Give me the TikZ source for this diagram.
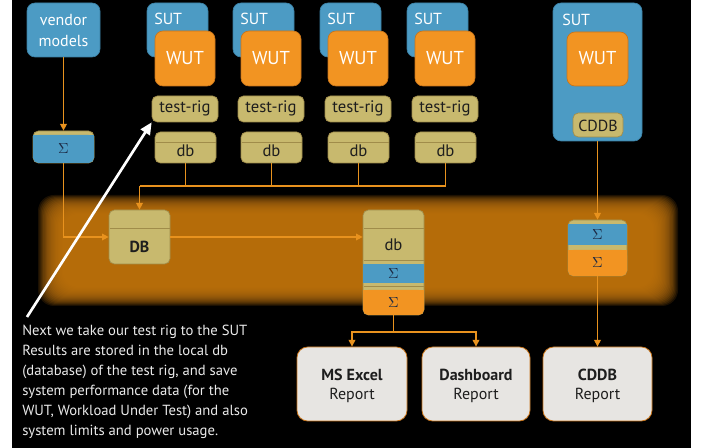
\documentclass[tikz,border=0pt]{standalone}
\usepackage{fontspec}
\setmainfont{PT Sans}
\usetikzlibrary{fit,arrows.meta}
\definecolor{bblue}{HTML}{4C9BC4}
\definecolor{bblueD}{HTML}{3A7FA3}
\definecolor{borange}{HTML}{F29422}
\definecolor{borangeD}{HTML}{C8741A}
\definecolor{btan}{HTML}{C8B96E}
\definecolor{btanD}{HTML}{A08C4A}
\definecolor{lineor}{HTML}{E8921E}
\definecolor{band}{HTML}{C27510}
\definecolor{repgray}{HTML}{E7E5E2}
\definecolor{sigcol}{HTML}{1C2A44}
\definecolor{txtdark}{HTML}{1E1E1E}
\definecolor{notegray}{HTML}{EAEAEA}
\tikzset{
  bluebox/.style={fill=bblue, draw=bblueD, line width=0.5pt, rounded corners=6pt, inner sep=0pt},
  orbox/.style={fill=borange, draw=borangeD, line width=0.5pt, rounded corners=6pt, inner sep=0pt},
  tanbox/.style={fill=btan, draw=btanD, line width=0.5pt, rounded corners=4pt, inner sep=0pt},
  repbox/.style={fill=repgray, draw=borangeD, line width=0.6pt, rounded corners=8pt, inner sep=0pt},
  wtxt/.style={text=white, font=\fontsize{12}{16}\selectfont, inner sep=0pt},
  wuttxt/.style={text=white, font=\fontsize{14}{16}\selectfont, inner sep=0pt},
  dtxt/.style={text=txtdark, font=\fontsize{12.5}{14}\selectfont, inner sep=0pt},
  reptxt/.style={text=txtdark, font=\fontsize{12}{14}\selectfont, inner sep=0pt},
  sigtxt/.style={text=sigcol, font=\fontsize{11}{12}\selectfont, inner sep=0pt},
  sepline/.style={draw=btanD, line width=0.6pt},
  wire/.style={draw=lineor, line width=0.9pt},
  flow/.style={draw=lineor, line width=0.9pt, -{Triangle[length=5pt,width=5pt]}},
}
\begin{document}
\begin{tikzpicture}[x=0.75pt,y=-0.75pt]
\useasboundingbox (0,0) rectangle (704,448);
\fill[white] (0,0) rectangle (704,448);
\fill[black] (12,0) rectangle (691,448);
% glow band
\foreach \k in {0,...,19} {
  \fill[band, opacity=0.14, rounded corners=12pt] ({38+1.3*\k},{195+1*\k}) rectangle ({678-1.3*\k},{306-1*\k});
}
% vendor models
\node[bluebox, fit={(27,3) (100,57)}] (vendor) {};
\node[wtxt] (vendor1) at (63.5,20) {vendor};
\node[wtxt] (vendor2) at (63.5,41) {models};
% left sigma
\node[tanbox, fit={(33,131) (94,163)}] (sigL) {};
\fill[bblue, rounded corners=4pt] (33,135) rectangle (94,163);
\fill[bblue] (33,135) rectangle (94,145);
\node[sigtxt] (sigLt) at (63.5,149) {$\Sigma$};
% columns
\foreach \i/\dx in {1/0,2/86,3/173,4/260} {
  \node[bluebox, fit={({147+\dx},3) ({208+\dx},57)}] (sut\i) {};
  \node[wtxt, anchor=west] (sut\i t) at ({154+\dx},19) {SUT};
  \node[orbox, fit={({155+\dx},31) ({215+\dx},86)}] (wut\i) {};
  \node[wuttxt] (wut\i t) at ({185+\dx},58) {WUT};
  \node[tanbox, fit={({152+\dx},96) ({218+\dx},122)}] (tr\i) {};
  \node[dtxt] (tr\i t) at ({185+\dx},108.5) {test-rig};
  \node[tanbox, fit={({155+\dx},132) ({216+\dx},163)}] (db\i) {};
  \draw[sepline] ({155.5+\dx},142) -- ({215.5+\dx},142);
  \node[dtxt] (db\i t) at ({185.5+\dx},150.5) {db};
}
% right SUT
\node[bluebox, fit={(553,3) (642,141)}] (sutR) {};
\node[wtxt, anchor=west] (sutRt) at (562,20) {SUT};
\node[orbox, fit={(567,32) (628,86)}] (wutR) {};
\node[wuttxt] (wutRt) at (597.5,58) {WUT};
\node[tanbox, fit={(573,113) (623,137)}] (cddb) {};
\node[dtxt, font=\fontsize{12}{14}\selectfont] (cddbt) at (598,125.5) {CDDB};
% DB
\node[tanbox, fit={(109,210) (170,264)}] (DB) {};
\draw[sepline] (109.5,228) -- (169.5,228);
\node[dtxt, font=\fontsize{12}{14}\selectfont\bfseries] (DBt) at (139.5,247) {DB};
% middle stack
\node[tanbox, fit={(363,210) (424,315)}] (stackM) {};
\fill[borange, rounded corners=4pt] (363,290) rectangle (424,315);
\fill[borange] (363,290) rectangle (424,300);
\fill[bblue] (363,264) rectangle (424,283);
\draw[sepline] (363.5,228) -- (423.5,228);
\draw[sepline] (363.5,260) -- (423.5,260);
\draw[sepline] (363.5,286.5) -- (423.5,286.5);
\node[dtxt] (dbMt) at (393.5,245) {db};
\node[sigtxt] (sM1) at (393.5,273.5) {$\Sigma$};
\node[sigtxt] (sM2) at (393.5,302.5) {$\Sigma$};
% right stack
\node[tanbox, fit={(568,220) (627,276)}] (stackR) {};
\fill[borange, rounded corners=4pt] (568,250) rectangle (627,276);
\fill[borange] (568,250) rectangle (627,260);
\fill[bblue] (568,224) rectangle (627,245);
\node[sigtxt] (sR1) at (597.5,234.5) {$\Sigma$};
\node[sigtxt] (sR2) at (597.5,263) {$\Sigma$};
% reports
\node[repbox, fit={(297,347) (407,421)}] (excel) {};
\node[reptxt, font=\fontsize{12}{14}\selectfont\bfseries] (excel1) at (352,375) {MS Excel};
\node[reptxt] (excel2) at (352,395) {Report};
\node[repbox, fit={(422,347) (530,421)}] (dash) {};
\node[reptxt, font=\fontsize{12}{14}\selectfont\bfseries] (dash1) at (476,375) {Dashboard};
\node[reptxt] (dash2) at (476,395) {Report};
\node[repbox, fit={(543,347) (652,421)}] (cddbrep) {};
\node[reptxt, font=\fontsize{12}{14}\selectfont\bfseries] (cddbrep1) at (597.5,375) {CDDB};
\node[reptxt] (cddbrep2) at (597.5,395) {Report};
% connectors
\draw[flow] (vendor.south) -- (sigL.north);
\draw[flow] (sigL.south) |- (DB.west);
\coordinate (bus) at (139.5,186);
\draw[wire] (db4.south) |- (bus);
\foreach \i in {1,2,3} { \draw[wire] (db\i.south) -- (db\i.south |- bus); }
\draw[flow] (bus) -- (DB.north);
\draw[flow] (DB.east) -- (DB.east -| stackM.west);
\coordinate (splitM) at (393.5,332);
\draw[wire] (stackM.south) -- (splitM);
\draw[flow] (splitM) -| (excel.north);
\draw[flow] (splitM) -| (dash.north);
\draw[flow] (sutR.south) -- (stackR.north);
\draw[flow] (stackR.south) -- (cddbrep.north);
% white arrow
\coordinate (wtail) at (27,317);
\draw[white, line width=2pt, -{Triangle[length=9pt,width=8pt]}] (wtail) -- (tr1.south west);
% note
\node[anchor=north west, inner sep=0pt, text=notegray, font=\fontsize{11}{15}\selectfont, align=left] (note) at (22,325) {Next we take our test rig to the SUT\\Results are stored in the local db\\(database) of the test rig, and save\\system performance data (for the\\WUT, Workload Under Test) and also\\system limits and power usage.};
\end{tikzpicture}
\end{document}
